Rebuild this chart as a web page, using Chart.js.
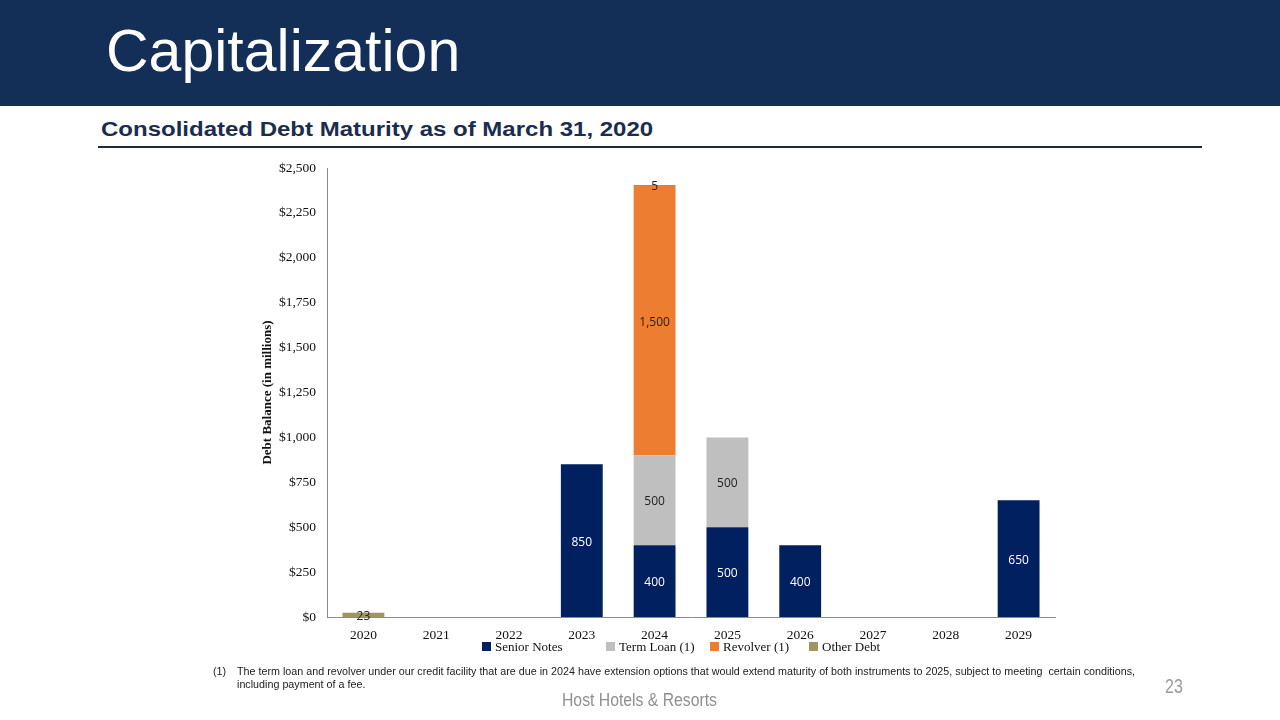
<!DOCTYPE html>
<html>
<head>
<meta charset="utf-8">
<script src="https://cdn.jsdelivr.net/npm/chart.js@4.4.1/dist/chart.umd.min.js"></script>
<style>
  html, body { margin:0; padding:0; width:1280px; height:720px; overflow:hidden; background:#fff; }
  #header { position:absolute; left:0; top:0; width:1280px; height:106px; background:#132e57; }
  #title { position:absolute; left:106px; top:22px; font:59px/1 "Liberation Sans", Arial, sans-serif; color:#fff; white-space:nowrap; }
  #subtitle { position:absolute; left:101px; top:119px; font:bold 20px/1 "Liberation Sans", Arial, sans-serif; color:#1b2d4f; white-space:nowrap; transform:scaleX(1.2); transform-origin:left top; }
  #rule { position:absolute; left:98px; top:146px; width:1104px; height:2px; background:#1c2a3c; }
  #chartwrap { position:absolute; left:0; top:0; width:1280px; height:720px; }
  .fn { position:absolute; font:11.5px/1 "Liberation Sans", Arial, sans-serif; color:#222; white-space:nowrap; transform:scaleX(0.934); transform-origin:left top; }
  #page { position:absolute; left:1165px; top:676px; font:20px/1 "Liberation Sans", Arial, sans-serif; color:#9a9a9a; transform:scaleX(0.8); transform-origin:left top; }
  #footer { position:absolute; left:562px; top:692px; font:17.5px/1 "Liberation Sans", Arial, sans-serif; color:#8f8f8f; white-space:nowrap; transform:scaleX(0.9); transform-origin:left top; }
  .lg { position:absolute; top:640px; height:14px; font:13px/14px "Liberation Serif", "Times New Roman", serif; color:#111; white-space:nowrap; }
  .lg i { display:inline-block; width:9px; height:9px; margin-right:4px; vertical-align:0px; }
</style>
</head>
<body>
<div id="header"></div>
<div id="title">Capitalization</div>
<div id="subtitle">Consolidated Debt Maturity as of March 31, 2020</div>
<div id="rule"></div>
<div id="chartwrap"><canvas id="c" width="1280" height="720"></canvas></div>
<div id="legend"></div>
<div class="fn" style="left:213px; top:666px;">(1)</div>
<div class="fn" style="left:237px; top:666px;">The term loan and revolver under our credit facility that are due in 2024 have extension options that would extend maturity of both instruments to 2025, subject to meeting&nbsp; certain conditions,</div>
<div class="fn" style="left:237px; top:679px;">including payment of a fee.</div>
<div id="page">23</div>
<div id="footer">Host Hotels &amp; Resorts</div>
<script>
const years = ["2020","2021","2022","2023","2024","2025","2026","2027","2028","2029"];
const seniorNotes = [null, null, null, 850, 400, 500, 400, null, null, 650];
const termLoan    = [null, null, null, null, 500, 500, null, null, null, null];
const revolver    = [null, null, null, null, 1500, null, null, null, null, null];
const otherDebt   = [23, null, null, null, 5, null, null, null, null, null];
const yTicks = [0, 250, 500, 750, 1000, 1250, 1500, 1750, 2000, 2250, 2500];
const seriesNames = ["Senior Notes", "Term Loan (1)", "Revolver (1)", "Other Debt"];
const seriesColors = ["#002060", "#bfbfbf", "#ed7d31", "#a09460"];
const labelColors = ["#ffffff", "#222222", "#222222", "#222222"];
const legendLeft = [482, 606, 710, 809];

const serif = "'Liberation Serif', 'Times New Roman', serif";

// HTML legend
const lg = document.getElementById('legend');
seriesNames.forEach((n, i) => {
  const d = document.createElement('div');
  d.className = 'lg';
  d.style.left = legendLeft[i] + 'px';
  d.innerHTML = '<i style="background:' + seriesColors[i] + '"></i>' + n;
  lg.appendChild(d);
});

const labelPlugin = {
  id: 'segLabels',
  afterDatasetsDraw(chart) {
    const ctx = chart.ctx;
    ctx.save();
    ctx.font = "12px 'Open Sans', 'Liberation Sans', sans-serif";
    ctx.textAlign = 'center';
    ctx.textBaseline = 'middle';
    chart.data.datasets.forEach((ds, di) => {
      const meta = chart.getDatasetMeta(di);
      meta.data.forEach((el, i) => {
        const v = ds.data[i];
        if (v === null || v === undefined) return;
        const p = el.getCenterPoint();
        ctx.fillStyle = labelColors[di];
        ctx.fillText(v.toLocaleString('en-US'), p.x, p.y + 1.5);
      });
    });
    ctx.restore();
  }
};

new Chart(document.getElementById('c'), {
  type: 'bar',
  data: {
    labels: years,
    datasets: [
      { label: seriesNames[0], data: seniorNotes, backgroundColor: seriesColors[0] },
      { label: seriesNames[1], data: termLoan, backgroundColor: seriesColors[1] },
      { label: seriesNames[2], data: revolver, backgroundColor: seriesColors[2] },
      { label: seriesNames[3], data: otherDebt, backgroundColor: seriesColors[3] }
    ]
  },
  options: {
    responsive: false,
    animation: false,
    devicePixelRatio: 1,
    layout: { padding: { left: 260, right: 225, top: 168, bottom: 73 } },
    datasets: { bar: { categoryPercentage: 1.0, barPercentage: 0.575 } },
    plugins: {
      legend: { display: false },
      tooltip: { enabled: false }
    },
    scales: {
      x: {
        stacked: true,
        grid: { display: false, drawTicks: false },
        border: { color: '#8c8c8c', width: 1 },
        ticks: { font: { family: serif, size: 13.5 }, color: '#111', padding: 10 },
        afterFit(s) { s.height = 30; }
      },
      y: {
        stacked: true,
        min: 0, max: 2500,
        afterBuildTicks(s) { s.ticks = yTicks.map(v => ({ value: v })); },
        grid: { display: false, drawTicks: false },
        border: { color: '#8c8c8c', width: 1 },
        ticks: {
          font: { family: serif, size: 13.5 }, color: '#111', padding: 11,
          callback: v => '$' + Number(v).toLocaleString('en-US')
        },
        title: { display: true, text: 'Debt Balance (in millions)', font: { family: serif, size: 13, weight: 'bold' }, color: '#111', padding: 0 },
        afterFit(s) { s.width = 67; }
      }
    }
  },
  plugins: [labelPlugin]
});
</script>
</body>
</html>
